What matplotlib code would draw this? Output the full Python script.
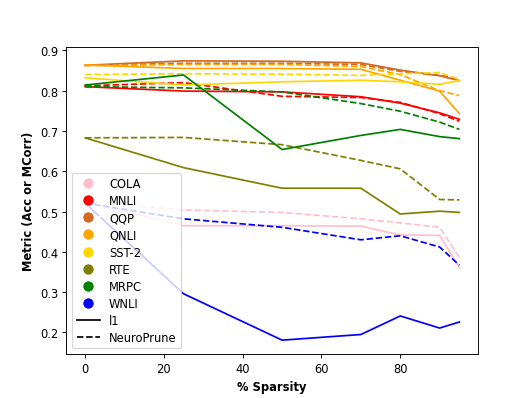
import matplotlib
matplotlib.use("Agg")
import matplotlib.pyplot as plt
from matplotlib.lines import Line2D

sparsity = [0, 25, 50, 70, 80, 90, 95]
tasks = ["COLA", "MNLI", "QQP", "QNLI", "SST-2", "RTE", "MRPC", "WNLI"]
colors = ["pink", "red", "chocolate", "orange", "gold", "olive", "green", "blue"]

l1_cola = [0.525, 0.465, 0.465, 0.464, 0.442, 0.441, 0.361]
l1_mnli = [0.810, 0.799, 0.797, 0.785, 0.769, 0.745, 0.729]
l1_qqp = [0.863, 0.874, 0.873, 0.869, 0.851, 0.837, 0.825]
l1_qnli = [0.864, 0.855, 0.855, 0.853, 0.826, 0.799, 0.743]
l1_sst2 = [0.832, 0.814, 0.822, 0.826, 0.822, 0.816, 0.825]
l1_rte = [0.683, 0.609, 0.558, 0.558, 0.494, 0.501, 0.498]
l1_mrpc = [0.814, 0.839, 0.654, 0.689, 0.704, 0.686, 0.681]
l1_wnli = [0.521, 0.296, 0.181, 0.195, 0.241, 0.211, 0.226]

np_cola = [0.525, 0.504, 0.498, 0.482, 0.472, 0.461, 0.386]
np_mnli = [0.812, 0.820, 0.786, 0.783, 0.771, 0.743, 0.724]
np_qqp = [0.863, 0.868, 0.868, 0.865, 0.848, 0.838, 0.829]
np_qnli = [0.862, 0.865, 0.865, 0.860, 0.840, 0.800, 0.788]
np_sst2 = [0.840, 0.842, 0.841, 0.838, 0.842, 0.845, 0.828]
np_rte = [0.683, 0.684, 0.666, 0.627, 0.606, 0.530, 0.529]
np_mrpc = [0.810, 0.807, 0.797, 0.768, 0.749, 0.722, 0.704]
np_wnli = [0.521, 0.482, 0.461, 0.430, 0.440, 0.412, 0.367]

l1_all = [l1_cola, l1_mnli, l1_qqp, l1_qnli, l1_sst2, l1_rte, l1_mrpc, l1_wnli]
np_all = [np_cola, np_mnli, np_qqp, np_qnli, np_sst2, np_rte, np_mrpc, np_wnli]

fig, ax = plt.subplots(figsize=(6.4, 4.807), dpi=83)
for c, a, b in zip(colors, l1_all, np_all):
    ax.plot(sparsity, a, color=c, linestyle="-")
    ax.plot(sparsity, b, color=c, linestyle="--")

handles = [Line2D([0], [0], marker="o", color="w", markerfacecolor=c,
                  markersize=10, label=t) for t, c in zip(tasks, colors)]
handles.append(Line2D([0], [0], color="black", linestyle="-", label="l1"))
handles.append(Line2D([0], [0], color="black", linestyle="--", label="NeuroPrune"))
ax.legend(handles=handles, loc="lower left", labelspacing=0.35)

ax.set_xlabel("% Sparsity", fontweight="bold")
ax.set_ylabel("Metric (Acc or MCorr)", fontweight="bold")
fig.savefig("out.png", dpi=83)
